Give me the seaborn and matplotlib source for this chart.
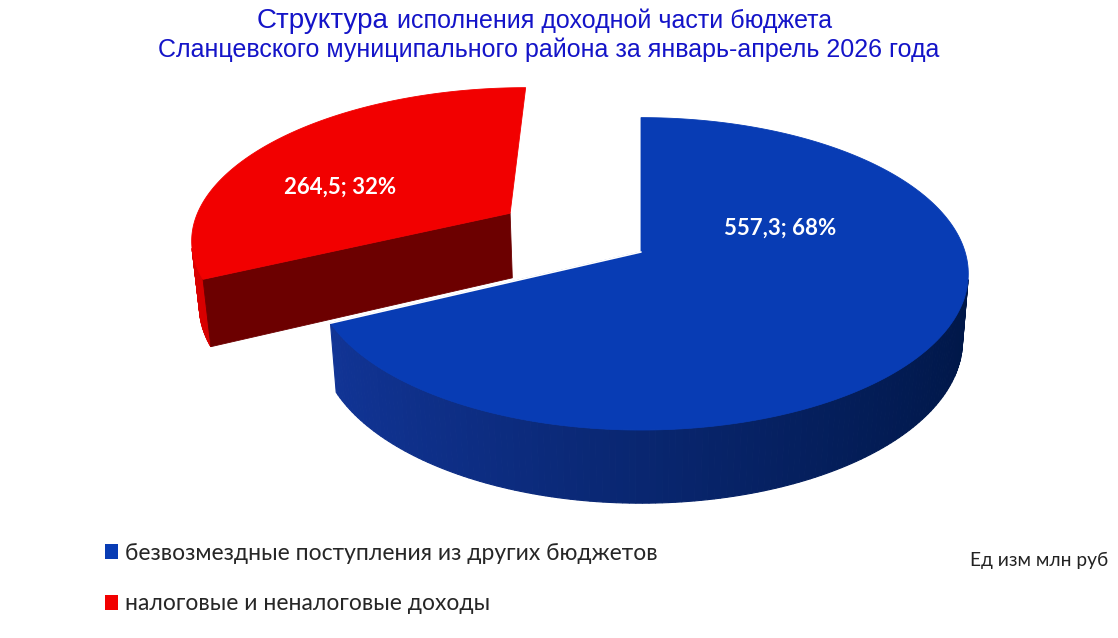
import numpy as np
import matplotlib
matplotlib.use("Agg")
import matplotlib.pyplot as plt
import seaborn as sns
from matplotlib.patches import Polygon, Patch

# Данные
categories = ["безвозмездные поступления из других бюджетов",
              "налоговые и неналоговые доходы"]
values = [557.3, 264.5]
explode = [0.0, 0.494]

# Цвета: верх, бок (светлый/тёмный), срез
top_colors = ["#083CB4", "#F20000"]
side_light = [(0.07, 0.21, 0.60), (0.86, 0.0, 0.0)]
side_dark = [(0.0, 0.09, 0.28), (0.45, 0.0, 0.0)]
cut_colors = ["#001E5C", "#6C0000"]

title_color = "#1414C8"

sns.set_theme(style="white")
plt.rcParams["font.family"] = ["Liberation Sans", "DejaVu Sans"]

W, H = 1118, 638
fig = plt.figure(figsize=(W / 100, H / 100), dpi=100)
ax = fig.add_axes([0, 0, 1, 1])
ax.set_xlim(0, W)
ax.set_ylim(H, 0)
ax.axis("off")

# Параметры 3D-проекции
CX, CY = 641, 252
F = 2045
elev = np.radians(28.2)
D = 6.31
DEPTH = 0.236
s, c = np.sin(elev), np.cos(elev)


def project(x, y, z):
    py = y + D * c
    pz = z - D * s
    depth = py * c - pz * s
    up = py * s + pz * c
    return CX + F * x / depth, CY - F * up / depth


def mix(a, b, t):
    return tuple(a[k] * (1 - t) + b[k] * t for k in range(3))


total = sum(values)
fracs = [v / total for v in values]
starts = np.cumsum([0] + fracs[:-1]) * 360
ends = starts + np.array(fracs) * 360

# сначала дальний (красный) сектор, потом синий
for i in reversed(range(len(values))):
    t0, t1 = np.radians(starts[i]), np.radians(ends[i])
    mid = (t0 + t1) / 2
    ox, oy = explode[i] * np.sin(mid), explode[i] * np.cos(mid)
    th = np.linspace(t0, t1, 240)
    rx, ry = ox + np.sin(th), oy + np.cos(th)

    # боковая поверхность
    for k in range(len(th) - 1):
        tm = (th[k] + th[k + 1]) / 2
        mx, my = ox + np.sin(tm), oy + np.cos(tm)
        if np.sin(tm) * (-mx) + np.cos(tm) * (-D * c - my) <= 0:
            continue
        xa, ya = project(rx[k:k + 2], ry[k:k + 2], 0)
        xb, yb = project(rx[k:k + 2], ry[k:k + 2], -DEPTH)
        pts = [(xa[0], ya[0]), (xa[1], ya[1]), (xb[1], yb[1]), (xb[0], yb[0])]
        col = mix(side_dark[i], side_light[i], (1 - np.sin(tm)) / 2)
        ax.add_patch(Polygon(pts, closed=True, fc=col, ec=col, lw=0.8))

    # радиальные срезы
    for ang, sign in [(t0, -1), (t1, 1)]:
        n = (sign * np.cos(ang), -sign * np.sin(ang))
        if n[1] * c > -0.05:
            continue
        px = np.array([ox, ox + np.sin(ang), ox + np.sin(ang), ox])
        py = np.array([oy, oy + np.cos(ang), oy + np.cos(ang), oy])
        pz = np.array([0, 0, -DEPTH, -DEPTH])
        X, Y = project(px, py, pz)
        ax.add_patch(Polygon(np.c_[X, Y], closed=True, fc=cut_colors[i],
                             ec=cut_colors[i], lw=0.6))

    # верхняя грань
    X, Y = project(np.r_[ox, rx], np.r_[oy, ry], np.zeros(len(rx) + 1))
    ax.add_patch(Polygon(np.c_[X, Y], closed=True, fc=top_colors[i],
                         ec=top_colors[i], lw=0.6))

# линия разреза между секторами
ang = np.radians(ends[0])
X, Y = project(np.array([0, np.sin(ang)]), np.array([0, np.cos(ang)]), 0)
ax.plot(X, Y, color="white", lw=1.2)

# подписи данных
label_xy = [(780, 228), (340, 187)]
for i, v in enumerate(values):
    txt = f"{v:.1f}".replace(".", ",") + f"; {round(fracs[i] * 100)}%"
    ax.text(*label_xy[i], txt, ha="center", va="center", color="white",
            fontsize=16, fontweight="bold", family=["Lato", "DejaVu Sans"])

# заголовок
ax.text(389, 28, "Структура", ha="right", va="baseline", fontsize=20,
        color=title_color)
ax.text(397, 28, "исполнения доходной части бюджета", ha="left",
        va="baseline", fontsize=18, color=title_color)
ax.text(549, 57, "Сланцевского муниципального района за январь-апрель 2026 года",
        ha="center", va="baseline", fontsize=18, color=title_color)

# легенда
handles = [Patch(facecolor=top_colors[i], edgecolor="none")
           for i in range(len(categories))]
leg = fig.legend(handles, categories, loc="upper left",
                 bbox_to_anchor=(84 / W, 1 - 522 / H), frameon=False,
                 handlelength=0.6, handleheight=0.6,
                 handletextpad=0.3, labelspacing=1.3,
                 prop={"family": ["Lato", "DejaVu Sans"], "size": 16.5})

ax.text(1108, 566, "Ед изм млн руб", ha="right", va="baseline", fontsize=13.8,
        color="#222222", family=["Lato", "DejaVu Sans"])

fig.savefig("out.png", dpi=100)
